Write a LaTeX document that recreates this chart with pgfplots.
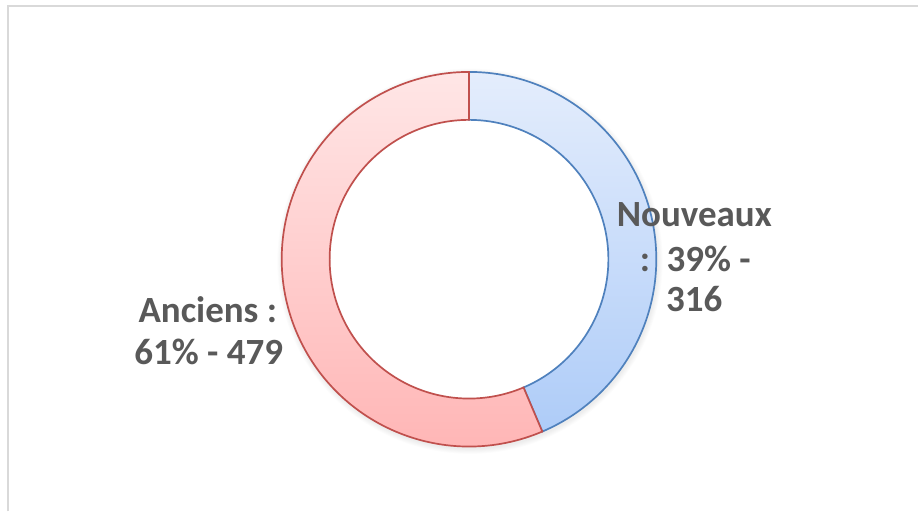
\documentclass[border=0pt]{standalone}
\usepackage{pgfplots}
\pgfplotsset{compat=1.18}
\usepackage{pgfplotstable}
\usepackage{fontspec}
\setmainfont{Carlito}
\definecolor{txt}{HTML}{595959}
\definecolor{framegray}{HTML}{D9D9D9}
\definecolor{bline}{HTML}{4F81BD}
\definecolor{btop}{HTML}{E4EDFC}
\definecolor{bbot}{HTML}{AECCF8}
\definecolor{rline}{HTML}{C0504D}
\definecolor{rtop}{HTML}{FFE6E6}
\definecolor{rbot}{HTML}{FFB3B3}
\pgfplotstableread{
label share value pct
Nouveaux 43.6 316 39
Anciens 56.4 479 61
}\donut
\begin{document}
\begin{tikzpicture}
\pgfplotstablegetelem{0}{share}\of\donut \let\sA\pgfplotsretval
\pgfplotstablegetelem{1}{share}\of\donut \let\sB\pgfplotsretval
\pgfmathsetmacro\tot{\sA+\sB}
\pgfmathsetmacro\aEnd{90-360*\sA/\tot}
\pgfmathsetmacro\cx{469.5}
\pgfmathsetmacro\cy{252.5}
\pgfmathsetmacro\Ro{187.5}
\pgfmathsetmacro\Ri{139.5}
\pgfmathsetmacro\ixE{\cx+\Ri*cos(\aEnd)}
\pgfmathsetmacro\iyE{\cy+\Ri*sin(\aEnd)}
\pgfmathsetmacro\oxE{\cx+\Ro*cos(\aEnd)}
\pgfmathsetmacro\oyE{\cy+\Ro*sin(\aEnd)}
\begin{axis}[x=1pt,y=1pt,xmin=0,xmax=919,ymin=0,ymax=512,hide axis,clip=false]
\fill[white] (axis cs:0,0) rectangle (axis cs:919,512);
\draw[framegray, line width=2pt] (axis cs:8,0) -- (axis cs:8,506) -- (axis cs:919,506);
% soft shadow
\pgfplotsinvokeforeach{1,...,6}{
  \fill[black, opacity=0.012] (axis cs:{\cx+1},{\cy-2}) circle[radius={(\Ro+#1*0.9)*1pt}];
}
\fill[white] (axis cs:\cx,\cy) circle[radius=\Ro pt];
% Nouveaux
\path[draw=bline, line width=1.7pt, top color=btop, bottom color=bbot]
  (axis cs:\cx,{\cy+\Ro}) arc[start angle=90, end angle=\aEnd, radius=\Ro pt]
  -- (axis cs:\ixE,\iyE) arc[start angle=\aEnd, end angle=90, radius=\Ri pt] -- cycle;
% Anciens
\path[draw=rline, line width=1.7pt, top color=rtop, bottom color=rbot]
  (axis cs:\oxE,\oyE) arc[start angle=\aEnd, end angle=-270, radius=\Ro pt]
  -- (axis cs:\cx,{\cy+\Ri}) arc[start angle=-270, end angle=\aEnd, radius=\Ri pt] -- cycle;
\begin{scope}[every node/.style={text=txt, font=\fontsize{37}{42}\selectfont\bfseries, anchor=base, inner sep=0pt}]
\node at (axis cs:695,285.3) {Nouveaux};
\node at (axis cs:696,240.3) {:\hspace{0.45em}39\% -};
\node at (axis cs:695,200.3) {316};
\node at (axis cs:208,189) {Anciens :};
\node at (axis cs:209,147) {61\% - 479};
\end{scope}
\end{axis}
\end{tikzpicture}
\end{document}
